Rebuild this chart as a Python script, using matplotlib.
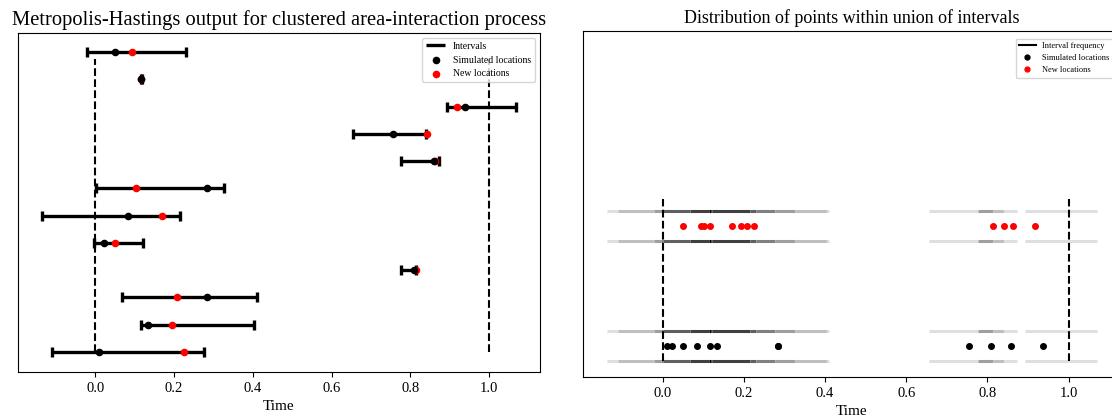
import numpy as np
import matplotlib.pyplot as plt
from matplotlib.lines import Line2D

plt.rcParams['font.family'] = ['Liberation Serif', 'DejaVu Serif']

# intervals, listed from the top row to the bottom row
lower = np.array([-0.021, 0.115, 0.893, 0.655, 0.776, 0.002, -0.136, -0.004, 0.777, 0.068, 0.115, -0.110])
upper = np.array([0.231, 0.118, 1.069, 0.841, 0.872, 0.327, 0.216, 0.122, 0.814, 0.411, 0.404, 0.276])
sim_loc = np.array([0.051, 0.117, 0.938, 0.755, 0.859, 0.283, 0.084, 0.022, 0.809, 0.283, 0.134, 0.010])
new_loc = np.array([0.094, 0.117, 0.918, 0.842, 0.863, 0.103, 0.170, 0.050, 0.815, 0.208, 0.194, 0.224])

n = len(lower)
rows = np.arange(n)[::-1]

fig = plt.figure(figsize=(11.12, 4.2), dpi=100)
ax1 = fig.add_axes([0.0162, 0.1143, 0.4694, 0.8071])
ax2 = fig.add_axes([0.5243, 0.1024, 0.4838, 0.8238])

# left: intervals with both sets of locations
ax1.hlines(rows, lower, upper, color='k', lw=2.4, label='Intervals')
ax1.plot(lower, rows, '|', color='k', ms=6.5, mew=2.4)
ax1.plot(upper, rows, '|', color='k', ms=6.5, mew=2.4)
ax1.vlines([0, 1], 0, 10.75, color='k', linestyles='--', lw=1.5)
ax1.scatter(new_loc, rows, s=20, color='r', zorder=3, label='New locations')
ax1.scatter(sim_loc, rows, s=20, color='k', zorder=3, label='Simulated locations')
ax1.set_ylim(-0.733, 11.70)
ax1.set_yticks([])
ax1.set_xlabel('Time', fontsize=11)
ax1.tick_params(labelsize=10.5)
ax1.set_title('Metropolis-Hastings output for clustered area-interaction process', fontsize=14.8)
h, l = ax1.get_legend_handles_labels()
ax1.legend([h[0], h[2], h[1]], [l[0], l[2], l[1]], loc='upper right', fontsize=7)

# right: overlap frequency of the intervals as grey bands
edges = np.unique(np.concatenate([lower, upper]))
seg_a, seg_b, seg_c = [], [], []
for a, b in zip(edges[:-1], edges[1:]):
    mid = (a + b) / 2
    cnt = np.sum((lower <= mid) & (upper >= mid))
    if cnt > 0:
        seg_a.append(a)
        seg_b.append(b)
        seg_c.append(str(max(0.0, 1 - cnt / 8)))

band = 0.125
for y0 in [0, 1]:
    for y in [y0 - band, y0 + band]:
        ax2.hlines([y] * len(seg_a), seg_a, seg_b, colors=seg_c, lw=2.2)
ax2.vlines([0, 1], -band, 1 + 1.8 * band, color='k', linestyles='--', lw=1.5, zorder=4)
ax2.scatter(sim_loc, np.zeros(n), s=16, color='k', zorder=3)
ax2.scatter(new_loc, np.ones(n), s=16, color='r', zorder=3)
ax2.set_xlim(ax1.get_xlim())
ax2.set_ylim(-0.258, 2.625)
ax2.set_yticks([])
ax2.set_xlabel('Time', fontsize=11)
ax2.tick_params(labelsize=10.5)
ax2.set_title('Distribution of points within union of intervals', fontsize=13)
handles = [Line2D([], [], color='k', lw=1.5),
           Line2D([], [], marker='o', ls='', color='k', ms=3.5),
           Line2D([], [], marker='o', ls='', color='r', ms=3.5)]
ax2.legend(handles, ['Interval frequency', 'Simulated locations', 'New locations'],
           loc='upper right', bbox_to_anchor=(0.993, 0.99), fontsize=6)

fig.savefig('out.png', dpi=100)
